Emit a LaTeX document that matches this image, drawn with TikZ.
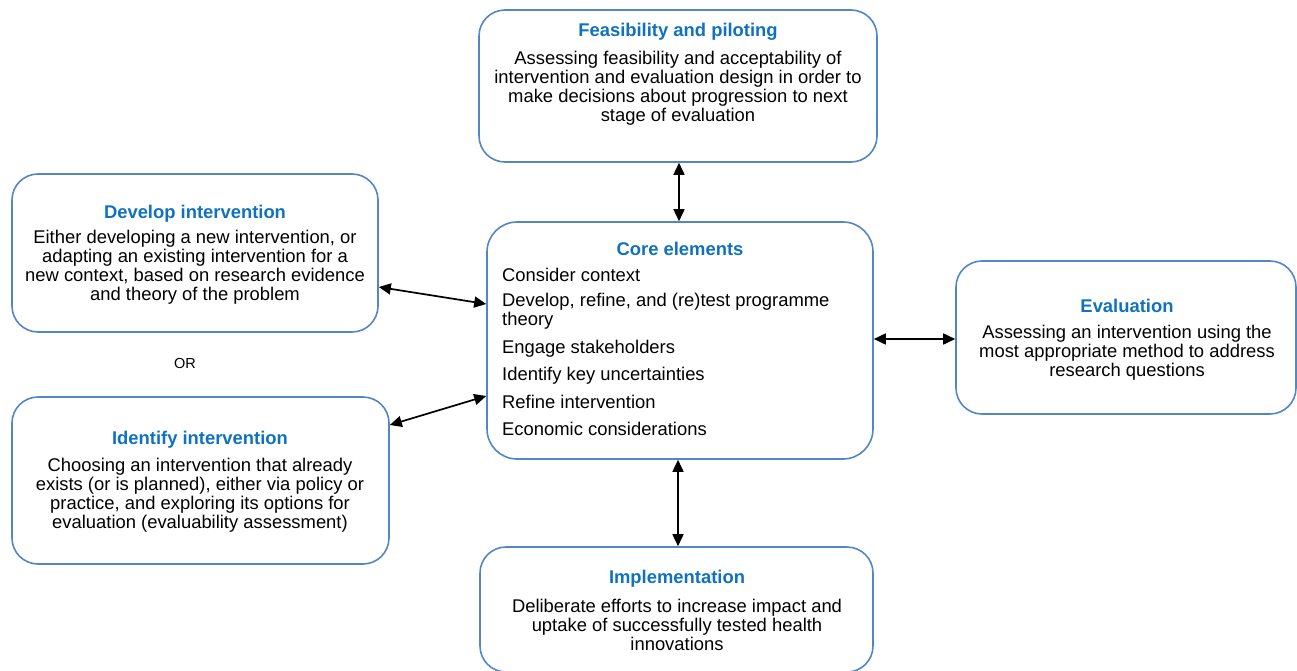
\documentclass[tikz,border=0pt]{standalone}
\usepackage{fontspec}
\setmainfont{Liberation Sans}
\usetikzlibrary{arrows.meta}
\definecolor{boxblue}{RGB}{84,134,196}
\definecolor{titleblue}{RGB}{16,114,190}
\begin{document}
\begin{tikzpicture}[x=1pt,y=-1pt,
  box/.style={draw=boxblue,line width=1.6pt,rounded corners=26pt,inner sep=0pt},
  ttl/.style={font=\fontsize{18.4}{19}\selectfont\bfseries,text=titleblue,inner sep=0pt},
  body/.style={font=\fontsize{18.4}{19}\selectfont,align=center,inner sep=0pt},
  item/.style={font=\fontsize{18.4}{19}\selectfont,align=left,inner sep=0pt,anchor=west},
  arr/.style={{Triangle[length=12pt,width=11pt]}-{Triangle[length=12pt,width=11pt]},line width=1.7pt}]
\useasboundingbox (0,0) rectangle (1297,671);
% boxes
\node[box,minimum width=398pt,minimum height=152pt] (feas) at (678,86) {};
\node[box,minimum width=386pt,minimum height=237pt,rounded corners=30pt] (core) at (680,340.5) {};
\node[box,minimum width=393pt,minimum height=125pt] (impl) at (676.5,609.5) {};
\node[box,minimum width=340pt,minimum height=153pt] (eval) at (1126,337.5) {};
\node[box,minimum width=366pt,minimum height=158pt] (dev) at (195,253) {};
\node[box,minimum width=377pt,minimum height=167pt] (iden) at (200.5,480.5) {};
% feasibility
\node[ttl] (feasT) at (678,31.5) {Feasibility and piloting};
\node[body] (feasB) at (678,88) {Assessing feasibility and acceptability of\\intervention and evaluation design in order to\\make decisions about progression to next\\stage of evaluation};
% core
\node[ttl] (coreT) at (680,248.5) {Core elements};
\node[item] (c1) at (502,275) {Consider context};
\node[item] (c2) at (502,311.5) {Develop, refine, and (re)test programme\\theory};
\node[item] (c3) at (502,349) {Engage stakeholders};
\node[item] (c4) at (502,376) {Identify key uncertainties};
\node[item] (c5) at (502,402) {Refine intervention};
\node[item] (c6) at (502,429) {Economic considerations};
% implementation
\node[ttl] (implT) at (677,578.5) {Implementation};
\node[body] (implB) at (677,624.5) {Deliberate efforts to increase impact and\\uptake of successfully tested health\\innovations};
% evaluation
\node[ttl] (evalT) at (1127,305.5) {Evaluation};
\node[body] (evalB) at (1127,352.5) {Assessing an intervention using the\\most appropriate method to address\\research questions};
% develop
\node[ttl] (devT) at (195,213.5) {Develop intervention};
\node[body] (devB) at (195,267.5) {Either developing a new intervention, or\\adapting an existing intervention for a\\new context, based on research evidence\\and theory of the problem};
% OR
\node[font=\fontsize{14.5}{16}\selectfont,inner sep=0pt] (or) at (185,364) {OR};
% identify
\node[ttl] (idenT) at (200,439.5) {Identify intervention};
\node[body] (idenB) at (200,495) {Choosing an intervention that already\\exists (or is planned), either via policy or\\practice, and exploring its options for\\evaluation (evaluability assessment)};
% arrows
\draw[arr] (feas.south -| 679,0) -- (core.north -| 679,0);
\draw[arr] (core.south -| 678,0) -- (impl.north -| 678,0);
\draw[arr] (core.east |- 0,339) -- (eval.west |- 0,339);
\draw[arr] (dev.east |- 0,287) -- (core.west |- 0,304);
\draw[arr] (iden.east |- 0,425) -- (core.west |- 0,396);
\end{tikzpicture}
\end{document}
